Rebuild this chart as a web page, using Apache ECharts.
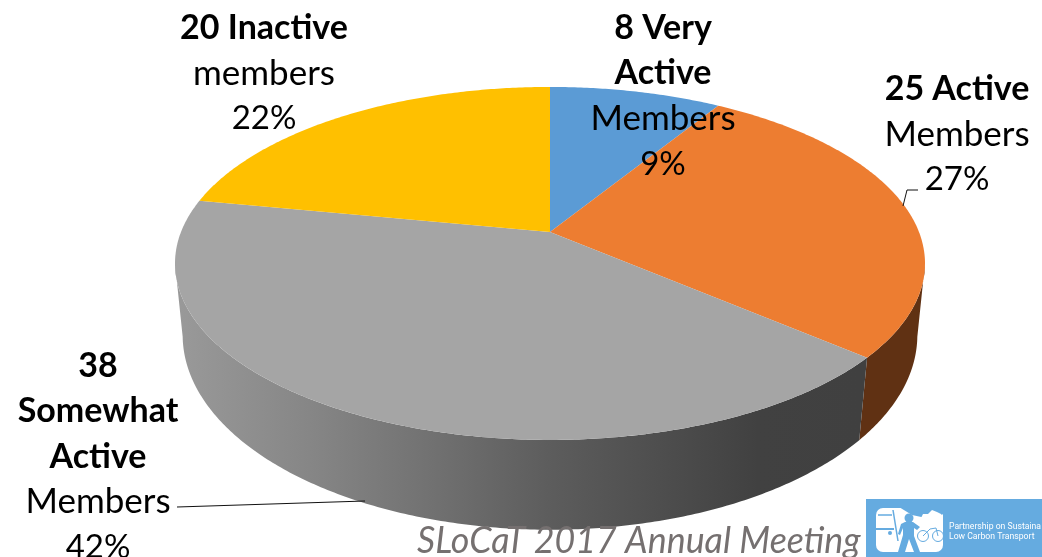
<!DOCTYPE html>
<html>
<head>
<meta charset="utf-8">
<style>html,body{margin:0;padding:0;background:#fff}#c{width:1042px;height:557px}</style>
<script src="https://cdn.jsdelivr.net/npm/echarts@6/dist/echarts.min.js"></script>
</head>
<body>
<div id="c"></div>
<script>
const categories = ['Very Active', 'Active', 'Somewhat Active', 'Inactive'];
const memberCounts = [8, 25, 38, 20];
const topColors = ['#5b9bd5', '#ed7d31', '#a5a5a5', '#ffc000'];
const labelHeads = [['8 Very', 'Active'], ['25 Active'], ['38', 'Somewhat', 'Active'], ['20 Inactive']];
const labelWords = ['Members', 'Members', 'Members', 'members'];
const labelPercents = ['9%', '27%', '42%', '22%'];
const footerText = 'SLoCaT 2017 Annual Meeting';
const logoLines = ['Partnership on Sustaina', 'Low Carbon Transport'];

const FONT = 'Lato';
const FS = 35;
const total = memberCounts.reduce((a, b) => a + b, 0);
const starts = memberCounts.map((_, i) => memberCounts.slice(0, i).reduce((a, b) => a + b, 0));

// perspective projection of the disc rim: top plane and bottom plane
const topPlane = { cx: 550, cy: 232, A: 369, B: 170.9, k: 0.178 };
const botPlane = { cx: 550, cy: 302, A: 362, B: 189, k: 0.17 };
function project(p, th) {
  const u = Math.sin(th), v = Math.cos(th), d = 1 + p.k * v;
  return [p.cx + p.A * u / d, p.cy - p.B * v / d];
}
function rim(p, a, b) {
  const n = Math.max(2, Math.ceil(Math.abs(b - a) / 0.01)), pts = [];
  for (let i = 0; i <= n; i++) pts.push(project(p, a + (b - a) * i / n));
  return pts;
}
const toAngle = v => v / total * Math.PI * 2;
// rim angles where the wall's silhouette touches the disc
const tangentRight = Math.acos(-topPlane.k);
const tangentLeft = Math.PI * 2 - tangentRight;

function sideFill(i) {
  if (i === 2) {
    return new echarts.graphic.LinearGradient(180, 0, 860, 0, [
      { offset: 0, color: '#999999' },
      { offset: 0.2, color: '#858585' },
      { offset: 0.55, color: '#5c5c5c' },
      { offset: 0.85, color: '#414141' },
      { offset: 1, color: '#404040' }
    ], true);
  }
  return '#603113';
}

function renderSide(params, api) {
  const i = params.dataIndex;
  const a = toAngle(api.value(1)), b = a + toAngle(api.value(0));
  const s = Math.max(a, tangentRight), e = Math.min(b, tangentLeft);
  if (s >= e) return null;
  const points = rim(topPlane, s, e).concat(rim(botPlane, e, s));
  return { type: 'polygon', shape: { points }, style: { fill: sideFill(i) } };
}
function renderTop(params, api) {
  const i = params.dataIndex;
  const a = toAngle(api.value(1)), b = a + toAngle(api.value(0));
  const points = [[topPlane.cx, topPlane.cy]].concat(rim(topPlane, a, b));
  return { type: 'polygon', shape: { points }, style: { fill: topColors[i] } };
}

const seriesData = memberCounts.map((v, i) => ({ name: categories[i], value: [v, starts[i]] }));

function labelText(i) {
  const rows = labelHeads[i].map(t => '{b|' + t + '}');
  rows.push('{r|' + labelWords[i] + '}', '{p|' + labelPercents[i] + '}');
  return rows.join('\n');
}
const LH = 45.3;
function labelEl(i, x, firstY) {
  return {
    type: 'text', x, y: firstY - LH / 2 + 1, z: 20,
    style: {
      text: labelText(i), align: 'center', verticalAlign: 'top',
      rich: {
        b: { fontFamily: FONT, fontWeight: 'bold', fontSize: 34, lineHeight: LH, fill: '#000', align: 'center' },
        r: { fontFamily: FONT, fontSize: FS, lineHeight: LH, fill: '#000', align: 'center' },
        p: { fontFamily: FONT, fontSize: 33, lineHeight: LH, fill: '#000', align: 'center' }
      }
    }
  };
}

const logoBlue = '#65abe0';
const poly = (points, fill) => ({ type: 'polygon', shape: { points }, style: { fill } });
const stroke = (points, w) => ({ type: 'polyline', shape: { points }, style: { fill: 'none', stroke: logoBlue, lineWidth: w } });
const logoText = (text, y) => ({ type: 'text', x: 949, y, scaleX: 0.91, style: { text, font: '9.5px Roboto', fill: '#fff', verticalAlign: 'middle' } });
const logo = [
  { type: 'rect', shape: { x: 866, y: 499, width: 176, height: 58 }, style: { fill: logoBlue } },
  { type: 'rect', shape: { x: 876, y: 508, width: 67, height: 44, r: 7 }, style: { fill: '#fff' } },
  poly([[899, 507], [912, 515], [926, 518], [944, 514], [944, 507]], logoBlue),
  poly([[921, 518], [923, 514], [928, 514], [932, 510], [937, 512], [941, 514], [941, 518], [933, 520]], '#fff'),
  stroke([[878, 515], [892, 515]], 1.5),
  stroke([[876, 529], [894, 529]], 2),
  stroke([[893, 510], [898, 541]], 1.5),
  { type: 'circle', shape: { cx: 890, cy: 533, r: 2 }, style: { fill: logoBlue } },
  { type: 'circle', shape: { cx: 909, cy: 518, r: 4.5 }, style: { fill: logoBlue } },
  poly([[905, 522], [913, 522], [920, 527], [917, 530], [914, 528], [914, 536], [920, 552], [914, 552], [909, 539], [905, 552], [898, 552], [903, 535], [903, 528], [900, 535], [898, 534], [901, 524]], logoBlue),
  { type: 'circle', shape: { cx: 923, cy: 536, r: 5.5 }, style: { fill: 'none', stroke: logoBlue, lineWidth: 1 } },
  { type: 'circle', shape: { cx: 938, cy: 536, r: 5.5 }, style: { fill: 'none', stroke: logoBlue, lineWidth: 1 } },
  stroke([[923, 536], [930, 529], [936, 528], [938, 536]], 1),
  logoText(logoLines[0], 527),
  logoText(logoLines[1], 536.5)
];

const option = {
  animation: false,
  backgroundColor: '#ffffff',
  series: [
    { type: 'custom', coordinateSystem: 'none', z: 1, silent: true, renderItem: renderSide, data: seriesData, clip: false },
    { type: 'custom', coordinateSystem: 'none', z: 2, silent: true, renderItem: renderTop, data: seriesData, clip: false }
  ],
  graphic: { elements: [
    { type: 'polyline', z: 15, shape: { points: [[903, 206], [907, 190], [918, 190]] }, style: { fill: 'none', stroke: '#111', lineWidth: 1 } },
    { type: 'polyline', z: 15, shape: { points: [[177, 507], [365, 501]] }, style: { fill: 'none', stroke: '#111', lineWidth: 1.2 } },
    labelEl(3, 264, 27),
    labelEl(0, 663, 27),
    labelEl(1, 957, 88),
    labelEl(2, 98, 365),
    { type: 'text', x: 417, y: 541, z: 18, style: { text: footerText, fontFamily: FONT, fontStyle: 'italic', fontSize: 35.8, fill: '#757070', verticalAlign: 'middle' } },
    { type: 'group', z: 19, children: logo }
  ] }
};
const chart = echarts.init(document.getElementById('c'), null, { renderer: 'canvas', width: 1042, height: 557 });
chart.setOption(option);
</script>
</body>
</html>
